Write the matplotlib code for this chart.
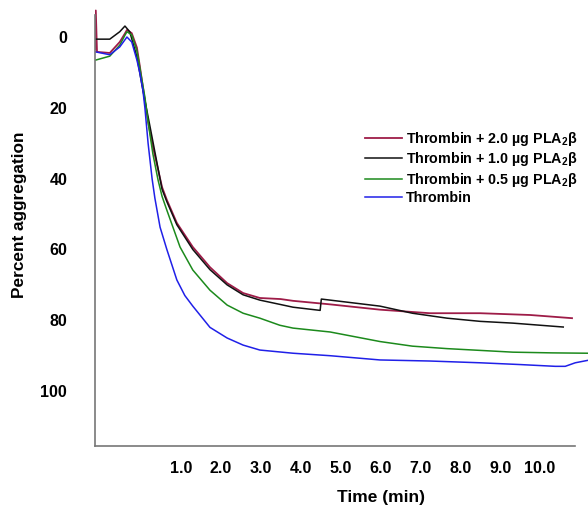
import matplotlib.pyplot as plt

plt.rcParams['font.family'] = ['Liberation Sans', 'DejaVu Sans']
plt.rcParams['mathtext.fontset'] = 'custom'
plt.rcParams['mathtext.rm'] = 'Liberation Sans'
plt.rcParams['mathtext.bf'] = 'Liberation Sans:bold'

# time (min) and percent aggregation
t_red = [-1.15, -1.13, -1.10, -0.78, -0.53, -0.40, -0.35, -0.23, -0.10, -0.03, 0.10, 0.18,
         0.30, 0.53, 0.65, 0.90, 1.30, 1.73, 2.16, 2.56, 2.98, 3.50, 3.81, 4.74, 5.99,
         7.24, 8.5, 9.75, 10.8]
v_red = [3.5, -7.5, 4.2, 4.5, 1.4, -1.0, -2.0, -1.1, 3.0, 8.0, 18.0, 24.0,
         31.0, 42.4, 46.0, 52.5, 59.3, 65.0, 69.5, 72.3, 73.7, 74.0, 74.5, 75.5, 77.0,
         78.0, 78.0, 78.5, 79.4]

t_black = [-1.13, -0.78, -0.53, -0.40, -0.28, -0.10, 0.05, 0.23, 0.53, 0.65, 0.90, 1.30,
           1.73, 2.16, 2.56, 2.98, 3.48, 3.81, 4.49, 4.52, 5.99, 6.8, 7.67, 8.5, 9.32, 10.58]
v_black = [0.6, 0.6, -1.5, -3.1, -1.5, 5.6, 15.0, 25.4, 43.0, 46.5, 53.0, 60.0,
           65.7, 70.0, 72.8, 74.3, 75.5, 76.3, 77.2, 74.0, 76.0, 78.0, 79.4, 80.3, 80.8, 81.9]

t_green = [-1.13, -0.78, -0.53, -0.40, -0.35, -0.23, -0.10, -0.03, 0.10, 0.18, 0.30, 0.43,
           0.53, 0.65, 0.98, 1.30, 1.73, 2.16, 2.56, 2.98, 3.48, 3.81, 4.74, 5.99, 6.8,
           7.67, 8.5, 9.32, 10.3, 11.2]
v_green = [6.5, 5.4, 2.3, -0.5, -1.5, -0.6, 4.0, 8.5, 17.0, 24.0, 33.0, 40.4,
           45.0, 48.9, 59.3, 65.8, 71.5, 75.7, 78.0, 79.4, 81.4, 82.2, 83.3, 86.0, 87.3,
           88.0, 88.5, 89.0, 89.2, 89.3]

t_blue = [-1.13, -0.78, -0.53, -0.35, -0.23, -0.10, -0.03, 0.05, 0.10, 0.18, 0.28, 0.35,
          0.48, 0.65, 0.90, 1.10, 1.30, 1.73, 2.16, 2.56, 2.98, 3.81, 4.74, 5.99, 7.24,
          8.5, 9.5, 10.38, 10.63, 10.88, 11.2]
v_blue = [4.2, 5.0, 2.8, 0.0, 1.4, 6.5, 10.0, 15.0, 20.0, 30.0, 40.0, 45.5,
          53.7, 60.0, 68.6, 73.0, 76.0, 82.0, 85.0, 87.0, 88.4, 89.3, 90.0, 91.2, 91.5,
          92.0, 92.5, 93.0, 93.0, 92.0, 91.3]

labels = [r'Thrombin + 2.0 µg PLA$_\mathbf{2}$β',
          r'Thrombin + 1.0 µg PLA$_\mathbf{2}$β',
          r'Thrombin + 0.5 µg PLA$_\mathbf{2}$β',
          'Thrombin']

fig = plt.figure(figsize=(5.88, 5.09), dpi=100)
ax = fig.add_axes([95 / 588, 1 - 446 / 509, 1 - 95 / 588, (446 - 8) / 509])

ax.plot(t_red, v_red, color='#9e1c48', lw=1.3, label=labels[0])
ax.plot(t_black, v_black, color='#111111', lw=1.1, label=labels[1])
ax.plot(t_green, v_green, color='#1c8a1c', lw=1.1, label=labels[2])
ax.plot(t_blue, v_blue, color='#2020e8', lw=1.1, label=labels[3])

ax.set_xlim(-1.15, 11.2)
ax.set_ylim(115.5, -8.2)
ax.spines['top'].set_visible(False)
ax.spines['right'].set_visible(False)
ax.spines['bottom'].set_bounds(-1.15, 10.88)
ax.spines['left'].set_bounds(115.5, -6.2)
for s in ('left', 'bottom'):
    ax.spines[s].set_color('#777777')
    ax.spines[s].set_linewidth(1.2)

ax.set_yticks([0, 20, 40, 60, 80, 100])
ax.set_xticks(range(1, 11))
ax.set_xticklabels([f'{i}.0' for i in range(1, 11)])
ax.tick_params(axis='y', length=0, pad=20, labelsize=11.5)
ax.tick_params(axis='x', length=0, pad=11, labelsize=11.5)
for lab in ax.get_xticklabels() + ax.get_yticklabels():
    lab.set_fontweight('bold')

ax.set_xlabel('Time (min)', fontsize=12.5, fontweight='bold')
ax.xaxis.set_label_coords((381 - 95) / 493, -44 / 438)
ax.set_ylabel('Percent aggregation', fontsize=12.4, fontweight='bold')
ax.yaxis.set_label_coords(-68 / 493, (446 - 215) / 438)

leg = ax.legend(loc='upper left', bbox_to_anchor=(358 / 588, 1 - 123 / 509),
                bbox_transform=fig.transFigure, frameon=False, borderpad=0,
                handlelength=2.6, handletextpad=0.25, labelspacing=0.16,
                prop={'weight': 'bold', 'size': 10.3})

fig.savefig('out.png', dpi=100)
